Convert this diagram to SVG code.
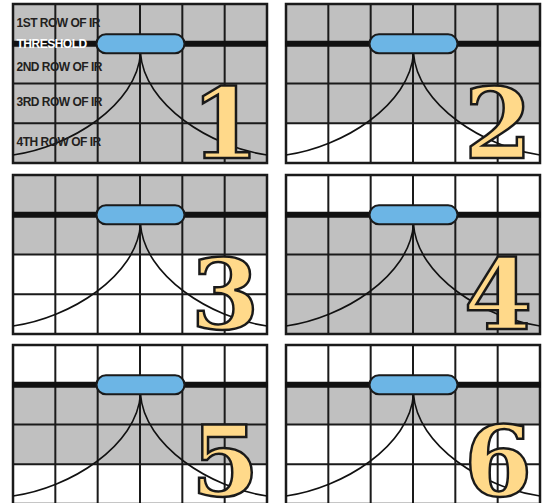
<svg xmlns="http://www.w3.org/2000/svg" xmlns:xlink="http://www.w3.org/1999/xlink" width="545" height="503" viewBox="0 0 545 503">
  <style>
    .bg { fill: #ffffff; }
    .gray { fill: #c0c0c0; }
    .grid { stroke: #1a1a1a; stroke-width: 2; fill: none; }
    .border { stroke: #1a1a1a; stroke-width: 2.5; fill: none; }
    .thresh { stroke: #111111; stroke-width: 6; }
    .curve { stroke: #111111; stroke-width: 1.6; fill: none; }
    .pill { fill: #6cb5e5; stroke: #1a1a1a; stroke-width: 2; }
    .lbl { font-family: "Liberation Sans", Arial, sans-serif; font-weight: bold; font-size: 12px; letter-spacing: -0.5px; fill: #231f20; }
    .lbl-w { fill: #ffffff; }
    .num { font-family: "DejaVu Serif", "Liberation Serif", serif; font-weight: bold; font-size: 98px; fill: #ffd98a; stroke: #1a1a1a; stroke-width: 2.5; text-anchor: middle; }
  </style>
  <defs>
    <g id="gridlines">
      <path class="grid" d="M42.33,0V159M84.67,0V159M127,0V159M169.33,0V159M211.67,0V159M0,79.5H254M0,119.25H254"/>
      <rect class="border" x="0" y="0" width="254" height="159"/>
    </g>
    <g id="sensor">
      <line class="thresh" x1="-1" y1="39.75" x2="255" y2="39.75"/>
      <path class="curve" d="M127.5,49 C124,101 57,143 0,151"/>
      <path class="curve" d="M127.5,49 C131,101 198,143 254,151"/>
      <rect class="pill" x="83.5" y="30.25" width="88" height="19" rx="9.5"/>
    </g>
  </defs>
  <rect class="bg" x="0" y="0" width="545" height="503"/>

  <g id="panel1" transform="translate(13,4)">
    <rect class="gray" x="0" y="0" width="254" height="159"/>
    <use xlink:href="#gridlines"/>
    <use xlink:href="#sensor"/>
    <text class="lbl" x="3.5" y="22.5">1ST ROW OF IR</text>
    <text class="lbl lbl-w" x="3.5" y="44">THRESHOLD</text>
    <text class="lbl" x="3.5" y="67">2ND ROW OF IR</text>
    <text class="lbl" x="3.5" y="102">3RD ROW OF IR</text>
    <text class="lbl" x="3.5" y="141.5">4TH ROW OF IR</text>
    <text class="num" x="212" y="154">1</text>
  </g>

  <g id="panel2" transform="translate(286,4)">
    <rect class="gray" x="0" y="0" width="254" height="119.25"/>
    <use xlink:href="#gridlines"/>
    <use xlink:href="#sensor"/>
    <text class="num" x="212" y="154">2</text>
  </g>

  <g id="panel3" transform="translate(13,175)">
    <rect class="gray" x="0" y="0" width="254" height="79.5"/>
    <use xlink:href="#gridlines"/>
    <use xlink:href="#sensor"/>
    <text class="num" x="212" y="154">3</text>
  </g>

  <g id="panel4" transform="translate(286,175)">
    <rect class="gray" x="0" y="39.75" width="254" height="119.25"/>
    <use xlink:href="#gridlines"/>
    <use xlink:href="#sensor"/>
    <text class="num" x="212" y="154">4</text>
  </g>

  <g id="panel5" transform="translate(13,345)">
    <rect class="gray" x="0" y="39.75" width="254" height="79.5"/>
    <use xlink:href="#gridlines"/>
    <use xlink:href="#sensor"/>
    <text class="num" x="212" y="151">5</text>
  </g>

  <g id="panel6" transform="translate(286,345)">
    <rect class="gray" x="0" y="39.75" width="254" height="39.75"/>
    <use xlink:href="#gridlines"/>
    <use xlink:href="#sensor"/>
    <text class="num" x="212" y="151">6</text>
  </g>
</svg>
